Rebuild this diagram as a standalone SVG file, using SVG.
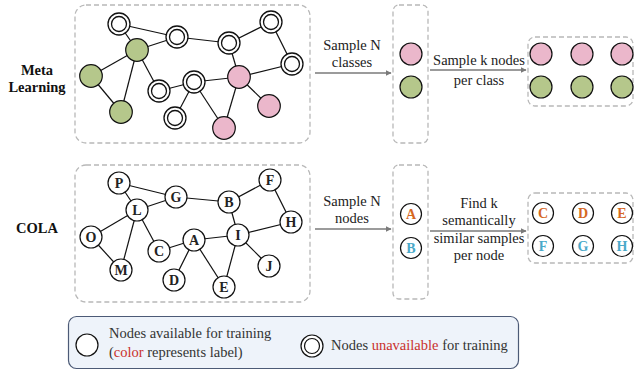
<svg xmlns="http://www.w3.org/2000/svg" width="634" height="371" viewBox="0 0 634 371">
<defs>
<style>
.box{fill:none;stroke:#b8b8b8;stroke-width:1.3;stroke-dasharray:5,3}
.e line{stroke:#111;stroke-width:1.2}
.dbl circle.o{fill:#fff;stroke:#111;stroke-width:1.3}
.dbl circle.i{fill:#fff;stroke:#111;stroke-width:1.3}
.g{fill:#b5c78b;stroke:#111;stroke-width:1.2}
.p{fill:#ebb7cb;stroke:#111;stroke-width:1.2}
.n{fill:#fff;stroke:#111;stroke-width:1.2}
.lt{font-family:"Liberation Serif",serif;font-size:14px;font-weight:bold;fill:#222;text-anchor:middle}
.t{font-family:"Liberation Serif",serif;font-size:14.5px;fill:#222;text-anchor:middle}
.h{font-family:"Liberation Serif",serif;font-size:14.5px;font-weight:bold;fill:#111;text-anchor:middle}
.or{fill:#d6681f}
.bl{fill:#4aa9c9}
.arr{stroke:#7a7a7a;stroke-width:1.4;fill:none;marker-end:url(#ah)}
</style>
<marker id="ah" viewBox="0 0 10 10" refX="9" refY="5" markerWidth="6" markerHeight="6" orient="auto" markerUnits="userSpaceOnUse">
<path d="M0,0 L10,5 L0,10 z" fill="#7a7a7a"/>
</marker>
</defs>
<rect width="634" height="371" fill="#fff"/>

<!-- row labels -->
<text class="h" x="37" y="75">Meta</text>
<text class="h" x="37" y="92">Learning</text>
<text class="h" x="37" y="233">COLA</text>

<!-- dashed boxes -->
<rect class="box" x="75" y="5" width="235" height="138" rx="11"/>
<rect class="box" x="75" y="165" width="235" height="137" rx="11"/>
<rect class="box" x="393" y="5" width="35" height="138" rx="6"/>
<rect class="box" x="393" y="165" width="35" height="134" rx="6"/>
<rect class="box" x="528" y="37" width="105" height="69" rx="7"/>
<rect class="box" x="528" y="193" width="105" height="70" rx="7"/>

<!-- connectors -->
<g id="connectors">
<g class="e">
<line x1="119" y1="24" x2="137" y2="50"/>
<line x1="119" y1="24" x2="177" y2="37"/>
<line x1="137" y1="50" x2="177" y2="37"/>
<line x1="177" y1="37" x2="229" y2="43"/>
<line x1="229" y1="43" x2="271" y2="22"/>
<line x1="271" y1="22" x2="292" y2="64"/>
<line x1="229" y1="43" x2="239" y2="77"/>
<line x1="239" y1="77" x2="292" y2="64"/>
<line x1="137" y1="50" x2="91" y2="76"/>
<line x1="137" y1="50" x2="121" y2="112"/>
<line x1="137" y1="50" x2="159" y2="91"/>
<line x1="91" y1="76" x2="121" y2="112"/>
<line x1="159" y1="91" x2="194" y2="82"/>
<line x1="194" y1="82" x2="239" y2="77"/>
<line x1="194" y1="82" x2="175" y2="118"/>
<line x1="194" y1="82" x2="224" y2="128"/>
<line x1="239" y1="77" x2="224" y2="128"/>
<line x1="239" y1="77" x2="269" y2="106"/>

<line x1="119" y1="183" x2="137" y2="210"/>
<line x1="119" y1="183" x2="176" y2="197"/>
<line x1="137" y1="210" x2="176" y2="197"/>
<line x1="176" y1="197" x2="229" y2="202"/>
<line x1="229" y1="202" x2="270" y2="180"/>
<line x1="270" y1="180" x2="291" y2="222"/>
<line x1="229" y1="202" x2="238" y2="235"/>
<line x1="238" y1="235" x2="291" y2="222"/>
<line x1="137" y1="210" x2="91" y2="237"/>
<line x1="137" y1="210" x2="121" y2="270"/>
<line x1="137" y1="210" x2="159" y2="251"/>
<line x1="91" y1="237" x2="121" y2="270"/>
<line x1="159" y1="251" x2="194" y2="240"/>
<line x1="194" y1="240" x2="238" y2="235"/>
<line x1="194" y1="240" x2="174" y2="280"/>
<line x1="194" y1="240" x2="224" y2="287"/>
<line x1="238" y1="235" x2="224" y2="287"/>
<line x1="238" y1="235" x2="269" y2="266"/>
</g>
<line class="arr" x1="315" y1="73" x2="391" y2="73"/>
<line class="arr" x1="430" y1="70" x2="526" y2="70"/>
<line class="arr" x1="315" y1="229" x2="391" y2="229"/>
<line class="arr" x1="430" y1="231" x2="526" y2="231"/>
</g>

<!-- arrow labels -->
<text class="t" x="352" y="50">Sample N</text>
<text class="t" x="352" y="67">classes</text>
<text class="t" x="479" y="65">Sample k nodes</text>
<text class="t" x="479" y="85">per class</text>
<text class="t" x="352" y="206">Sample N</text>
<text class="t" x="352" y="223">nodes</text>
<text class="t" x="479" y="208">Find k</text>
<text class="t" x="479" y="225">semantically</text>
<text class="t" x="479" y="243">similar samples</text>
<text class="t" x="479" y="260">per node</text>

<!-- meta learning graph nodes -->
<g id="m1" class="dbl"><circle class="o" cx="119" cy="24" r="11"/><circle class="i" cx="119" cy="24" r="7.5"/></g>
<g id="m2" class="dbl"><circle class="o" cx="177" cy="37" r="11"/><circle class="i" cx="177" cy="37" r="7.5"/></g>
<g id="m3" class="dbl"><circle class="o" cx="229" cy="43" r="11"/><circle class="i" cx="229" cy="43" r="7.5"/></g>
<g id="m4" class="dbl"><circle class="o" cx="271" cy="22" r="11"/><circle class="i" cx="271" cy="22" r="7.5"/></g>
<g id="m5" class="dbl"><circle class="o" cx="292" cy="64" r="11"/><circle class="i" cx="292" cy="64" r="7.5"/></g>
<g id="m6" class="dbl"><circle class="o" cx="159" cy="91" r="11"/><circle class="i" cx="159" cy="91" r="7.5"/></g>
<g id="m7" class="dbl"><circle class="o" cx="194" cy="82" r="11"/><circle class="i" cx="194" cy="82" r="7.5"/></g>
<g id="m8" class="dbl"><circle class="o" cx="175" cy="118" r="11"/><circle class="i" cx="175" cy="118" r="7.5"/></g>
<g id="m9"><circle class="g" cx="137" cy="50" r="11.3"/></g>
<g id="m10"><circle class="g" cx="91" cy="76" r="11.3"/></g>
<g id="m11"><circle class="g" cx="121" cy="112" r="11.3"/></g>
<g id="m12"><circle class="p" cx="239" cy="77" r="11.3"/></g>
<g id="m13"><circle class="p" cx="269" cy="106" r="11.3"/></g>
<g id="m14"><circle class="p" cx="224" cy="128" r="11.3"/></g>

<!-- COLA graph nodes -->
<g id="nP"><circle class="n" cx="119" cy="183" r="11"/><text class="lt" x="119" y="188">P</text></g>
<g id="nG"><circle class="n" cx="176" cy="197" r="11"/><text class="lt" x="176" y="202">G</text></g>
<g id="nB"><circle class="n" cx="229" cy="202" r="11"/><text class="lt" x="229" y="207">B</text></g>
<g id="nF"><circle class="n" cx="270" cy="180" r="11"/><text class="lt" x="270" y="185">F</text></g>
<g id="nH"><circle class="n" cx="291" cy="222" r="11"/><text class="lt" x="291" y="227">H</text></g>
<g id="nL"><circle class="n" cx="137" cy="210" r="11"/><text class="lt" x="137" y="215">L</text></g>
<g id="nO"><circle class="n" cx="91" cy="237" r="11"/><text class="lt" x="91" y="242">O</text></g>
<g id="nM"><circle class="n" cx="121" cy="270" r="11"/><text class="lt" x="121" y="275">M</text></g>
<g id="nC"><circle class="n" cx="159" cy="251" r="11"/><text class="lt" x="159" y="256">C</text></g>
<g id="nA"><circle class="n" cx="194" cy="240" r="11"/><text class="lt" x="194" y="245">A</text></g>
<g id="nI"><circle class="n" cx="238" cy="235" r="11"/><text class="lt" x="238" y="240">I</text></g>
<g id="nD"><circle class="n" cx="174" cy="280" r="11"/><text class="lt" x="174" y="285">D</text></g>
<g id="nE"><circle class="n" cx="224" cy="287" r="11"/><text class="lt" x="224" y="292">E</text></g>
<g id="nJ"><circle class="n" cx="269" cy="266" r="11"/><text class="lt" x="269" y="271">J</text></g>

<!-- sampled classes -->
<g id="s1"><circle class="p" cx="411" cy="54" r="11"/></g>
<g id="s2"><circle class="g" cx="411" cy="87" r="11"/></g>
<g id="k1"><circle class="p" cx="541" cy="54" r="11"/></g>
<g id="k2"><circle class="p" cx="582" cy="54" r="11"/></g>
<g id="k3"><circle class="p" cx="622" cy="54" r="11"/></g>
<g id="k4"><circle class="g" cx="541" cy="87" r="11"/></g>
<g id="k5"><circle class="g" cx="582" cy="87" r="11"/></g>
<g id="k6"><circle class="g" cx="622" cy="87" r="11"/></g>

<!-- sampled nodes COLA -->
<g id="sA"><circle class="n" cx="411" cy="214" r="10.5"/><text class="lt or" x="411" y="219">A</text></g>
<g id="sB"><circle class="n" cx="411" cy="248" r="10.5"/><text class="lt bl" x="411" y="253">B</text></g>
<g id="cC"><circle class="n" cx="543" cy="213" r="10.5"/><text class="lt or" x="543" y="218">C</text></g>
<g id="cD"><circle class="n" cx="583" cy="213" r="10.5"/><text class="lt or" x="583" y="218">D</text></g>
<g id="cE"><circle class="n" cx="622" cy="213" r="10.5"/><text class="lt or" x="622" y="218">E</text></g>
<g id="cF"><circle class="n" cx="543" cy="246" r="10.5"/><text class="lt bl" x="543" y="251">F</text></g>
<g id="cG"><circle class="n" cx="583" cy="246" r="10.5"/><text class="lt bl" x="583" y="251">G</text></g>
<g id="cH"><circle class="n" cx="622" cy="246" r="10.5"/><text class="lt bl" x="622" y="251">H</text></g>

<!-- legend -->
<g id="legend">
<rect x="68.5" y="316.5" width="450" height="52" rx="8" fill="#eef3fa" stroke="#4c5a76" stroke-width="1.2"/>
<circle cx="87" cy="345" r="11" fill="#fff" stroke="#111" stroke-width="1.2"/>
<text x="109" y="338" font-family="Liberation Serif, serif" font-size="14.5" fill="#333">Nodes available for training</text>
<text x="109" y="357" font-family="Liberation Serif, serif" font-size="14.5" fill="#333">(<tspan fill="#c9302c">color</tspan> represents label)</text>
<circle cx="312" cy="346" r="11" fill="#fff" stroke="#111" stroke-width="1.2"/>
<circle cx="312" cy="346" r="7.5" fill="#fff" stroke="#111" stroke-width="1.2"/>
<text x="331" y="350" font-family="Liberation Serif, serif" font-size="14.5" fill="#333">Nodes <tspan fill="#c9302c">unavailable</tspan> for training</text>
</g>
</svg>
